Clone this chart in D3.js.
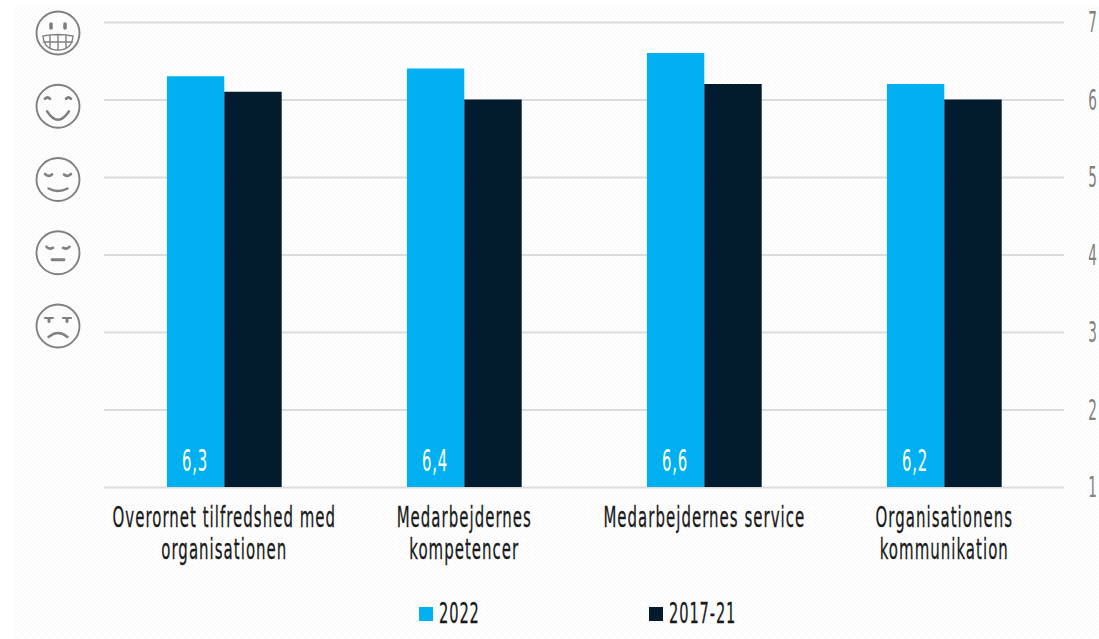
<!DOCTYPE html>
<html>
<head>
<meta charset="utf-8">
<script src="https://cdn.jsdelivr.net/npm/d3@7/dist/d3.min.js"></script>
<style>
html,body{margin:0;padding:0;background:#fff;overflow:hidden}
svg{display:block}
text{font-family:"DejaVu Sans Condensed","DejaVu Sans",sans-serif}
</style>
</head>
<body>
<div id="chart"></div>
<script>
const categories = [
  ["Overornet tilfredshed med", "organisationen"],
  ["Medarbejdernes", "kompetencer"],
  ["Medarbejdernes service"],
  ["Organisationens", "kommunikation"]
];
const seriesNames = ["2022", "2017-21"];
const values2022 = [6.3, 6.4, 6.6, 6.2];
const values2017 = [6.1, 6.0, 6.2, 6.0];
const tickValues = [1, 2, 3, 4, 5, 6, 7];
const moods = ["grin", "happy", "content", "neutral", "sad"];

const W = 1099, H = 639;
const colors = ["#00b0f0", "#021c2e"];
const inkGrey = "#808080";
const inkDark = "#1a1a1a";

const svg = d3.select("#chart").append("svg").attr("width", W).attr("height", H);

// Faint checker backdrop
const pat = svg.append("defs").append("pattern")
  .attr("id", "checker").attr("width", 4).attr("height", 4)
  .attr("patternUnits", "userSpaceOnUse");
pat.append("rect").attr("width", 2).attr("height", 2).attr("fill", "#fafafa");
pat.append("rect").attr("x", 2).attr("y", 2).attr("width", 2).attr("height", 2).attr("fill", "#fafafa");
svg.append("rect").attr("x", 14).attr("y", 7).attr("width", W - 14).attr("height", H - 7)
  .attr("fill", "url(#checker)");

const x = d3.scaleBand().domain(d3.range(categories.length)).range([104.3, 1064.3]);
const barW = 57.4;
const y = d3.scaleLinear().domain([1, 7]).range([487, 22]);

// Condensed lettering: scale glyphs horizontally about the anchor point
function squeezed(sel, px, py, sx) {
  return sel.attr("text-anchor", "middle")
    .attr("transform", `translate(${px},${py}) scale(${sx},1)`);
}

// Gridlines from the right-hand axis
const axis = d3.axisRight(y).tickValues(tickValues).tickSize(0).tickFormat(d3.format("d"));
const axisG = svg.append("g").attr("transform", "translate(1064,0)").call(axis);
axisG.select(".domain").remove();
axisG.selectAll(".tick text").remove();
axisG.selectAll(".tick").append("line")
  .attr("x1", -960).attr("x2", 0).attr("y1", 0).attr("y2", 0)
  .attr("stroke", "#dcdcdc").attr("stroke-width", 2);
axisG.selectAll(".tick").append("text")
  .text(d => d)
  .attr("fill", inkGrey).attr("font-size", 29)
  .attr("text-anchor", "middle")
  .attr("transform", "translate(28.5,9.5) scale(0.52,1)");

// Bars
const groups = svg.append("g").selectAll("g").data(categories).join("g")
  .attr("transform", (d, i) => `translate(${x(i) + x.bandwidth() / 2},0)`);

groups.append("rect")
  .attr("x", -barW).attr("width", barW)
  .attr("y", (d, i) => y(values2022[i]))
  .attr("height", (d, i) => y(1) - y(values2022[i]))
  .attr("fill", colors[0]);
groups.append("rect")
  .attr("x", 0).attr("width", barW)
  .attr("y", (d, i) => y(values2017[i]))
  .attr("height", (d, i) => y(1) - y(values2017[i]))
  .attr("fill", colors[1]);

// Value labels at the foot of the 2022 bars
groups.append("text")
  .text((d, i) => d3.format(".1f")(values2022[i]).replace(".", ","))
  .attr("fill", "#fff").attr("font-size", 30)
  .attr("letter-spacing", 1.5)
  .call(squeezed, -barW / 2 - 0.5, 471, 0.55);

// Category labels
groups.each(function (lines) {
  const g = d3.select(this);
  lines.forEach((line, k) => {
    g.append("text").text(line)
      .attr("fill", inkDark).attr("stroke", inkDark).attr("stroke-width", 0.3)
      .attr("font-size", 27.5)
      .attr("letter-spacing", 1.7)
      .call(squeezed, 0, 527 + k * 32, 0.605);
  });
});

// Legend
const legendX = [419, 649];
seriesNames.forEach((name, i) => {
  svg.append("rect").attr("x", legendX[i]).attr("y", 607).attr("width", 14).attr("height", 14)
    .attr("fill", colors[i]);
  svg.append("text").text(name)
    .attr("fill", inkDark).attr("stroke", inkDark).attr("stroke-width", 0.3)
    .attr("font-size", 29)
    .attr("letter-spacing", 1.6)
    .attr("transform", `translate(${legendX[i] + 20},623) scale(0.56,1)`);
});

// Smiley scale at the left
const moodY = d3.scalePoint().domain(moods).range([33, 326]);
const face = svg.append("g").selectAll("g").data(moods).join("g")
  .attr("transform", d => `translate(58,${moodY(d)})`)
  .attr("fill", "none").attr("stroke", "#808080").attr("stroke-linecap", "round");
face.append("circle").attr("r", 21.5).attr("stroke-width", 1.9);

const features = {
  grin: g => {
    g.append("path").attr("stroke-width", 3.6).attr("d", "M-7,-9V-5M7,-9V-5");
    g.append("path").attr("stroke-width", 1.4)
      .attr("d", "M-15,3Q0,0 15,3Q14,17 0,17Q-14,17 -15,3ZM-14.5,9H14.5M-8,2V15.5M0,1.5V17M8,2V15.5");
  },
  happy: g => {
    g.append("path").attr("stroke-width", 2.6).attr("d", "M-13,-7.5Q-10.5,-10 -8,-7.5M8,-7.5Q10.5,-10 13,-7.5");
    g.append("path").attr("stroke-width", 2.4).attr("d", "M-11,5Q0,22 11,5");
  },
  content: g => {
    g.append("path").attr("stroke-width", 2.6).attr("d", "M-13,-5.5Q-9,-2 -6,-5M6,-5Q9,-2 13,-5.5");
    g.append("path").attr("stroke-width", 2.4).attr("d", "M-9.5,9Q0,14 9.5,9");
  },
  neutral: g => {
    g.append("path").attr("stroke-width", 2.6).attr("d", "M-11.5,-6Q-9,-3 -5,-5M5,-5Q9,-3 11.5,-6");
    g.append("path").attr("stroke-width", 2.8).attr("d", "M-6,7H6");
  },
  sad: g => {
    g.append("path").attr("stroke-width", 2.2).attr("d", "M-13,-8H-5M5,-8H13");
    g.append("path").attr("stroke-width", 3).attr("d", "M-9,-7V-4.5M9,-7V-4.5");
    g.append("path").attr("stroke-width", 2.4).attr("d", "M-9.5,11Q0,3 9.5,11");
  }
};
face.each(function (d) { features[d](d3.select(this)); });
</script>
</body>
</html>
